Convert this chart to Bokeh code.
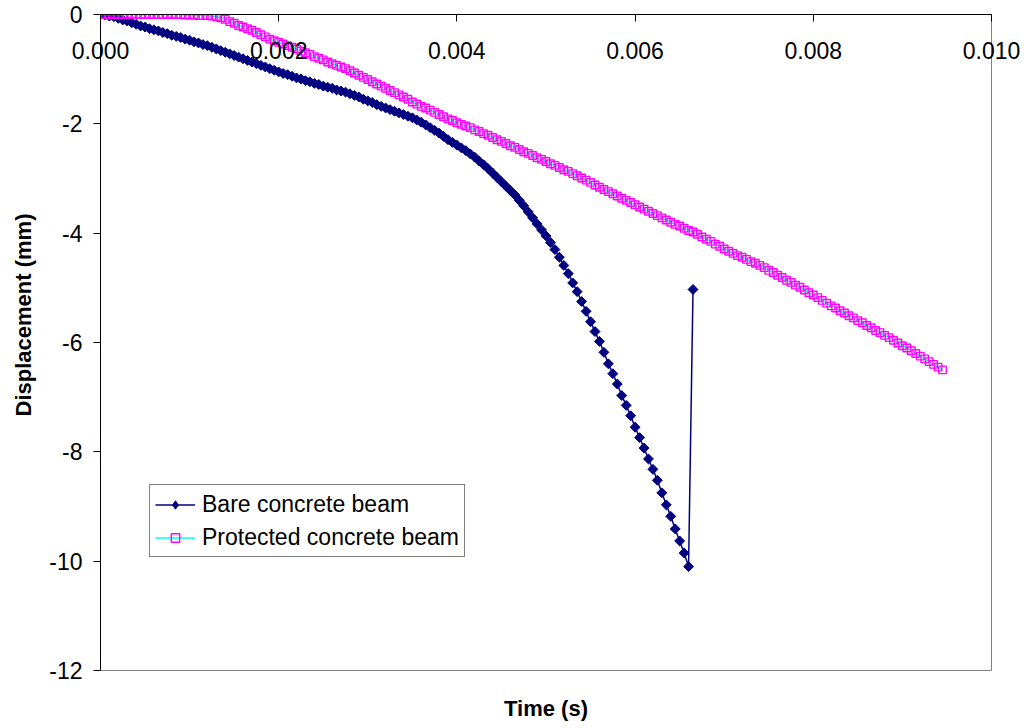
import math
from bokeh.plotting import figure
from bokeh.models import (Range1d, FixedTicker, PrintfTickFormatter, Title,
                          Legend, LegendItem, LinearAxis)
from bokeh.embed import file_html
from bokeh.resources import INLINE

# ---------------- data ----------------
# sample times in microseconds (every 50 us)
time_us = [
    0, 50, 100, 150, 200, 250, 300, 350, 400, 450,
    500, 550, 600, 650, 700, 750, 800, 850, 900, 950,
    1000, 1050, 1100, 1150, 1200, 1250, 1300, 1350, 1400, 1450,
    1500, 1550, 1600, 1650, 1700, 1750, 1800, 1850, 1900, 1950,
    2000, 2050, 2100, 2150, 2200, 2250, 2300, 2350, 2400, 2450,
    2500, 2550, 2600, 2650, 2700, 2750, 2800, 2850, 2900, 2950,
    3000, 3050, 3100, 3150, 3200, 3250, 3300, 3350, 3400, 3450,
    3500, 3550, 3600, 3650, 3700, 3750, 3800, 3850, 3900, 3950,
    4000, 4050, 4100, 4150, 4200, 4250, 4300, 4350, 4400, 4450,
    4500, 4550, 4600, 4650, 4700, 4750, 4800, 4850, 4900, 4950,
    5000, 5050, 5100, 5150, 5200, 5250, 5300, 5350, 5400, 5450,
    5500, 5550, 5600, 5650, 5700, 5750, 5800, 5850, 5900, 5950,
    6000, 6050, 6100, 6150, 6200, 6250, 6300, 6350, 6400, 6450,
    6500, 6550, 6600, 6650, 6700, 6750, 6800, 6850, 6900, 6950,
    7000, 7050, 7100, 7150, 7200, 7250, 7300, 7350, 7400, 7450,
    7500, 7550, 7600, 7650, 7700, 7750, 7800, 7850, 7900, 7950,
    8000, 8050, 8100, 8150, 8200, 8250, 8300, 8350, 8400, 8450,
    8500, 8550, 8600, 8650, 8700, 8750, 8800, 8850, 8900, 8950,
    9000, 9050, 9100, 9150, 9200, 9250, 9300, 9350, 9400, 9450,
]

bare_disp = [
    0.00, -0.01, -0.03, -0.04, -0.07, -0.10, -0.12, -0.15, -0.18, -0.21,
    -0.23, -0.26, -0.28, -0.30, -0.33, -0.35, -0.38, -0.40, -0.42, -0.45,
    -0.47, -0.50, -0.52, -0.55, -0.57, -0.60, -0.63, -0.66, -0.69, -0.72,
    -0.75, -0.78, -0.81, -0.84, -0.87, -0.90, -0.93, -0.96, -0.99, -1.02,
    -1.05, -1.08, -1.10, -1.13, -1.16, -1.18, -1.21, -1.23, -1.26, -1.28,
    -1.31, -1.33, -1.35, -1.38, -1.40, -1.42, -1.45, -1.48, -1.51, -1.55,
    -1.58, -1.61, -1.65, -1.68, -1.71, -1.74, -1.77, -1.80, -1.83, -1.86,
    -1.89, -1.93, -1.97, -2.02, -2.07, -2.12, -2.17, -2.23, -2.29, -2.34,
    -2.39, -2.44, -2.49, -2.55, -2.61, -2.68, -2.75, -2.82, -2.90, -2.98,
    -3.06, -3.14, -3.22, -3.30, -3.40, -3.50, -3.61, -3.72, -3.83, -3.94,
    -4.05, -4.17, -4.30, -4.44, -4.59, -4.74, -4.91, -5.07, -5.25, -5.43,
    -5.62, -5.80, -5.98, -6.18, -6.39, -6.57, -6.76, -6.97, -7.15, -7.34,
    -7.55, -7.74, -7.93, -8.13, -8.32, -8.52, -8.75, -8.97, -9.18, -9.41,
    -9.63, -9.85, -10.10, -5.03,
]

protected_disp = [
    0.00, 0.00, 0.00, 0.00, 0.00, 0.00, 0.00, 0.00, 0.00, 0.00,
    0.00, 0.00, 0.00, 0.00, 0.00, 0.00, 0.00, 0.00, 0.00, -0.01,
    -0.01, -0.01, -0.02, -0.02, -0.02, -0.03, -0.04, -0.06, -0.09, -0.13,
    -0.16, -0.20, -0.23, -0.26, -0.29, -0.33, -0.37, -0.41, -0.45, -0.48,
    -0.51, -0.54, -0.57, -0.60, -0.63, -0.67, -0.70, -0.73, -0.77, -0.80,
    -0.83, -0.87, -0.90, -0.93, -0.96, -0.99, -1.03, -1.07, -1.11, -1.15,
    -1.19, -1.23, -1.27, -1.31, -1.35, -1.39, -1.43, -1.47, -1.51, -1.55,
    -1.60, -1.64, -1.68, -1.71, -1.75, -1.79, -1.83, -1.87, -1.91, -1.94,
    -1.98, -2.01, -2.04, -2.07, -2.11, -2.14, -2.18, -2.21, -2.25, -2.29,
    -2.32, -2.36, -2.40, -2.43, -2.47, -2.51, -2.54, -2.58, -2.62, -2.65,
    -2.69, -2.73, -2.76, -2.80, -2.84, -2.87, -2.91, -2.95, -2.99, -3.03,
    -3.07, -3.12, -3.16, -3.20, -3.24, -3.28, -3.32, -3.36, -3.40, -3.44,
    -3.48, -3.52, -3.56, -3.60, -3.64, -3.68, -3.72, -3.76, -3.80, -3.84,
    -3.87, -3.91, -3.95, -3.98, -4.02, -4.07, -4.11, -4.15, -4.20, -4.24,
    -4.29, -4.33, -4.37, -4.41, -4.44, -4.48, -4.52, -4.55, -4.59, -4.63,
    -4.68, -4.72, -4.77, -4.81, -4.86, -4.90, -4.95, -4.99, -5.04, -5.09,
    -5.13, -5.18, -5.23, -5.28, -5.33, -5.37, -5.42, -5.46, -5.51, -5.55,
    -5.60, -5.64, -5.69, -5.73, -5.78, -5.82, -5.87, -5.91, -5.96, -6.01,
    -6.06, -6.10, -6.15, -6.20, -6.25, -6.30, -6.35, -6.40, -6.45, -6.50,
]

series_names = ["Bare concrete beam", "Protected concrete beam"]
x_ticks = [0.0, 0.002, 0.004, 0.006, 0.008, 0.010]
y_ticks = [-12, -10, -8, -6, -4, -2, 0]
x_title = "Time (s)"
y_title = "Displacement (mm)"

bare_t = [t / 1e6 for t in time_us[:len(bare_disp)]]
prot_t = [t / 1e6 for t in time_us[:len(protected_disp)]]

# ---------------- figure ----------------
FONT = "Liberation Sans"
FS = "23px"
FS_TITLE = "22px"

p = figure(width=1026, height=728,
           x_range=Range1d(0, 0.010), y_range=Range1d(-12, 0),
           x_axis_location="above",
           output_backend="svg", toolbar_location=None,
           min_border_left=100, min_border_right=35,
           min_border_top=14, min_border_bottom=58)
p.background_fill_color = "white"
p.border_fill_color = "white"
p.outline_line_color = "#808080"
p.outline_line_width = 1
p.xgrid.visible = False
p.ygrid.visible = False

xa = p.xaxis[0]
xa.ticker = FixedTicker(ticks=x_ticks)
xa.formatter = PrintfTickFormatter(format="%.3f")
xa.major_tick_in = 7
xa.major_tick_out = 0
xa.minor_tick_in = 0
xa.minor_tick_out = 0
xa.major_label_standoff = -44
xa.major_label_text_font = FONT
xa.major_label_text_font_size = FS
xa.major_label_text_color = "black"
xa.axis_line_color = "black"
xa.major_tick_line_color = "black"

ya = p.yaxis[0]
ya.ticker = FixedTicker(ticks=y_ticks)
ya.formatter = PrintfTickFormatter(format="%d")
ya.major_tick_in = 0
ya.major_tick_out = 7
ya.minor_tick_in = 0
ya.minor_tick_out = 0
ya.major_label_standoff = 11
ya.major_label_text_font = FONT
ya.major_label_text_font_size = FS
ya.major_label_text_color = "black"
ya.axis_line_color = "black"
ya.major_tick_line_color = "black"

# bottom axis carrying only the title
xb = LinearAxis(ticker=FixedTicker(ticks=[]), axis_label=x_title,
                axis_label_standoff=25, axis_line_color=None,
                major_tick_in=0, major_tick_out=0,
                minor_tick_in=0, minor_tick_out=0,
                major_label_standoff=0,
                axis_label_text_font=FONT, axis_label_text_font_size=FS_TITLE,
                axis_label_text_font_style="bold",
                axis_label_text_color="black")
p.add_layout(xb, "below")

# ---------------- series ----------------
bl = p.line(bare_t, bare_disp, line_color="#000080", line_width=1.5)
bs = p.scatter(bare_t, bare_disp, marker="square", angle=math.pi / 4, size=7,
               line_color="#000080", fill_color="#000080")
pl = p.line(prot_t, protected_disp, line_color="#00FFFF", line_width=1.5)
ps = p.scatter(prot_t, protected_disp, marker="square", size=7.5,
               line_color="#FF00FF", fill_alpha=0, line_width=1.4)
# legend-only diamond (its single point is NaN, so nothing is drawn)
bd = p.scatter([float("nan")], [float("nan")], marker="diamond", size=9,
               line_color="#000080", fill_color="#000080")

legend = Legend(items=[LegendItem(label=series_names[0], renderers=[bl, bd]),
                       LegendItem(label=series_names[1], renderers=[pl, ps])],
                location=(49, 113), orientation="vertical",
                border_line_color="black", border_line_width=1,
                background_fill_color="white", background_fill_alpha=1,
                padding=5, spacing=5, margin=0,
                label_height=28, glyph_height=21, glyph_width=40,
                label_standoff=7,
                label_text_font=FONT, label_text_font_size=FS,
                label_text_color="black")
p.add_layout(legend)

p.add_layout(Title(text=y_title, align="right", offset=199,
                   vertical_align="middle", standoff=19,
                   text_font=FONT, text_font_size=FS_TITLE,
                   text_font_style="bold", text_color="black"), "left")

open("out.html", "w").write(file_html(p, INLINE))
